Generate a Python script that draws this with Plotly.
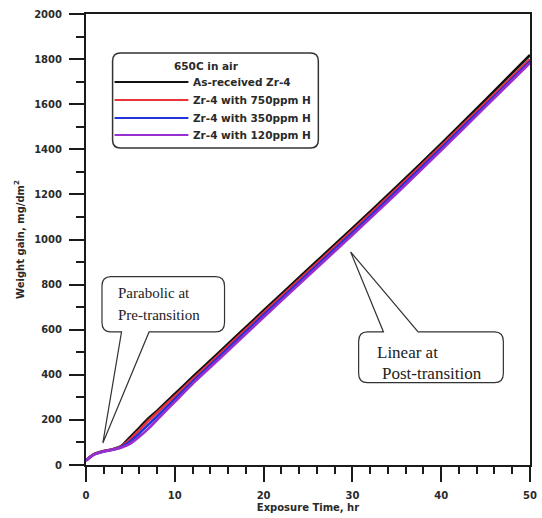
import plotly.graph_objects as go

# Oxidation kinetics of Zircaloy-4 at 650C in air
time_hr = [0, 0.5, 1, 2, 3, 4, 5, 6, 7, 8, 10, 12, 15, 20, 25, 30, 35, 40, 45, 50]
as_received = [20, 38, 50, 62, 70, 85, 125, 165, 205, 240, 315, 390, 500, 685, 868, 1050, 1235, 1425, 1620, 1818]
h_750ppm = [20, 37, 49, 61, 69, 82, 115, 155, 195, 232, 305, 380, 490, 675, 858, 1040, 1225, 1415, 1607, 1800]
h_350ppm = [20, 36, 48, 60, 68, 80, 105, 140, 178, 215, 292, 370, 480, 665, 848, 1030, 1215, 1405, 1597, 1790]
h_120ppm = [20, 36, 48, 60, 68, 78, 95, 125, 160, 200, 280, 360, 470, 655, 838, 1020, 1205, 1395, 1589, 1783]

series_values = [as_received, h_750ppm, h_350ppm, h_120ppm]
series_names = ["As-received Zr-4", "Zr-4 with 750ppm H", "Zr-4 with 350ppm H", "Zr-4 with 120ppm H"]
series_colors = ["#111111", "#e8323c", "#2233d8", "#9a2fd0"]
legend_title = "650C in air"

x_ticks = [0, 10, 20, 30, 40, 50]
y_ticks = [0, 200, 400, 600, 800, 1000, 1200, 1400, 1600, 1800, 2000]

W, H = 542, 518
ML, MR, MT, MB = 86, 5, 14, 53
PW, PH = W - ML - MR, H - MT - MB


def paper(xp, yp):
    """Pixel position on the page -> paper coordinates."""
    return (xp - ML) / PW, (H - MB - yp) / PH


fig = go.Figure()
for name, vals, col in zip(series_names, series_values, series_colors):
    fig.add_trace(go.Scatter(
        x=time_hr, y=vals, name=name, mode="lines",
        line=dict(color=col, width=2.6, shape="spline", smoothing=0.6),
        showlegend=False,
    ))

tick_font = dict(family="DejaVu Sans", size=10, color="#2a2a2a", weight="bold")
axis_common = dict(
    showgrid=False, zeroline=False, showline=True, linecolor="#1a1a1a", linewidth=2,
    mirror=True, ticks="outside", ticklen=15, tickwidth=2, tickcolor="#1a1a1a",
    tickfont=tick_font,
)

fig.update_xaxes(
    range=[0, 50], tickvals=x_ticks, ticklabelstandoff=5,
    minor=dict(dtick=2, ticklen=7, tickwidth=2, tickcolor="#1a1a1a", ticks="outside"),
    title=dict(text="Exposure Time, hr", standoff=4,
               font=dict(family="DejaVu Sans", size=10, color="#2a2a2a", weight="bold")),
    **axis_common,
)
fig.update_yaxes(
    range=[0, 2000], tickvals=y_ticks, ticklabelstandoff=5,
    minor=dict(dtick=100, ticklen=8, tickwidth=2, tickcolor="#1a1a1a", ticks="outside"),
    title=dict(text="Weight gain, mg/dm<sup>2</sup>", standoff=8,
               font=dict(family="DejaVu Sans", size=10, color="#2a2a2a", weight="bold")),
    **axis_common,
)

shapes = []
annotations = []

# Legend box with rounded corners
lx0, ly0 = paper(113, 148)
lx1, ly1 = paper(322, 53)
rx, ry = 8 / PW, 8 / PH
shapes.append(dict(
    type="path", xref="paper", yref="paper",
    path=(f"M {lx0+rx},{ly1} L {lx1-rx},{ly1} Q {lx1},{ly1} {lx1},{ly1-ry} "
          f"L {lx1},{ly0+ry} Q {lx1},{ly0} {lx1-rx},{ly0} L {lx0+rx},{ly0} "
          f"Q {lx0},{ly0} {lx0},{ly0+ry} L {lx0},{ly1-ry} Q {lx0},{ly1} {lx0+rx},{ly1} Z"),
    line=dict(color="#333333", width=1.5), fillcolor="white", layer="above",
))
tx, ty = paper(208, 66)
annotations.append(dict(
    xref="paper", yref="paper", x=tx, y=ty, text=legend_title, showarrow=False,
    xanchor="center", yanchor="middle",
    font=dict(family="DejaVu Sans", size=10.5, color="#2a2a2a", weight="bold"),
))
row_y = [82, 100, 118, 135]
for name, col, yp in zip(series_names, series_colors, row_y):
    sx0, sy = paper(115, yp)
    sx1, _ = paper(190, yp)
    shapes.append(dict(type="line", xref="paper", yref="paper", x0=sx0, x1=sx1, y0=sy, y1=sy,
                       line=dict(color=col, width=2.2), layer="above"))
    ax, _ = paper(193, yp)
    annotations.append(dict(
        xref="paper", yref="paper", x=ax, y=sy, text=name, showarrow=False,
        xanchor="left", yanchor="middle",
        font=dict(family="DejaVu Sans", size=10.5, color="#2a2a2a", weight="bold"),
    ))


def callout(x0, x1, y0, y1, n1, n2, tip, edge, rxd, ryd):
    """Rounded box in data units with a wedge pointer leaving the given edge."""
    tx_, ty_ = tip
    if edge == "bottom":
        return (f"M {x0+rxd},{y1} L {x1-rxd},{y1} Q {x1},{y1} {x1},{y1-ryd} "
                f"L {x1},{y0+ryd} Q {x1},{y0} {x1-rxd},{y0} L {n2},{y0} L {tx_},{ty_} L {n1},{y0} "
                f"L {x0+rxd},{y0} Q {x0},{y0} {x0},{y0+ryd} L {x0},{y1-ryd} Q {x0},{y1} {x0+rxd},{y1} Z")
    return (f"M {x0+rxd},{y1} L {n1},{y1} L {tx_},{ty_} L {n2},{y1} L {x1-rxd},{y1} "
            f"Q {x1},{y1} {x1},{y1-ryd} L {x1},{y0+ryd} Q {x1},{y0} {x1-rxd},{y0} "
            f"L {x0+rxd},{y0} Q {x0},{y0} {x0},{y0+ryd} L {x0},{y1-ryd} Q {x0},{y1} {x0+rxd},{y1} Z")


callout_style = dict(type="path", xref="x", yref="y", line=dict(color="#333333", width=1.2),
                     fillcolor="rgba(255,255,255,0)", layer="above")
shapes.append(dict(path=callout(1.8, 15.6, 590, 835, 4.0, 7.1, (1.9, 98), "bottom", 1.0, 42),
                   **callout_style))
shapes.append(dict(path=callout(30.7, 47.0, 365, 590, 33.5, 37.4, (29.8, 945), "top", 1.0, 42),
                   **callout_style))

serif = "Liberation Serif"
annotations += [
    dict(xref="x", yref="y", x=3.4, y=763, text="Parabolic at", showarrow=False,
         xanchor="left", yanchor="middle", font=dict(family=serif, size=15, color="#222222")),
    dict(xref="x", yref="y", x=3.4, y=665, text="Pre-transition", showarrow=False,
         xanchor="left", yanchor="middle", font=dict(family=serif, size=15, color="#222222")),
    dict(xref="x", yref="y", x=32.6, y=501, text="Linear at", showarrow=False,
         xanchor="left", yanchor="middle", font=dict(family=serif, size=17, color="#222222")),
    dict(xref="x", yref="y", x=33.1, y=408, text="Post-transition", showarrow=False,
         xanchor="left", yanchor="middle", font=dict(family=serif, size=17, color="#222222")),
]

fig.update_layout(
    width=W, height=H, margin=dict(l=ML, r=MR, t=MT, b=MB),
    paper_bgcolor="white", plot_bgcolor="white",
    shapes=shapes, annotations=annotations, showlegend=False,
)

fig.write_html("out.html")
